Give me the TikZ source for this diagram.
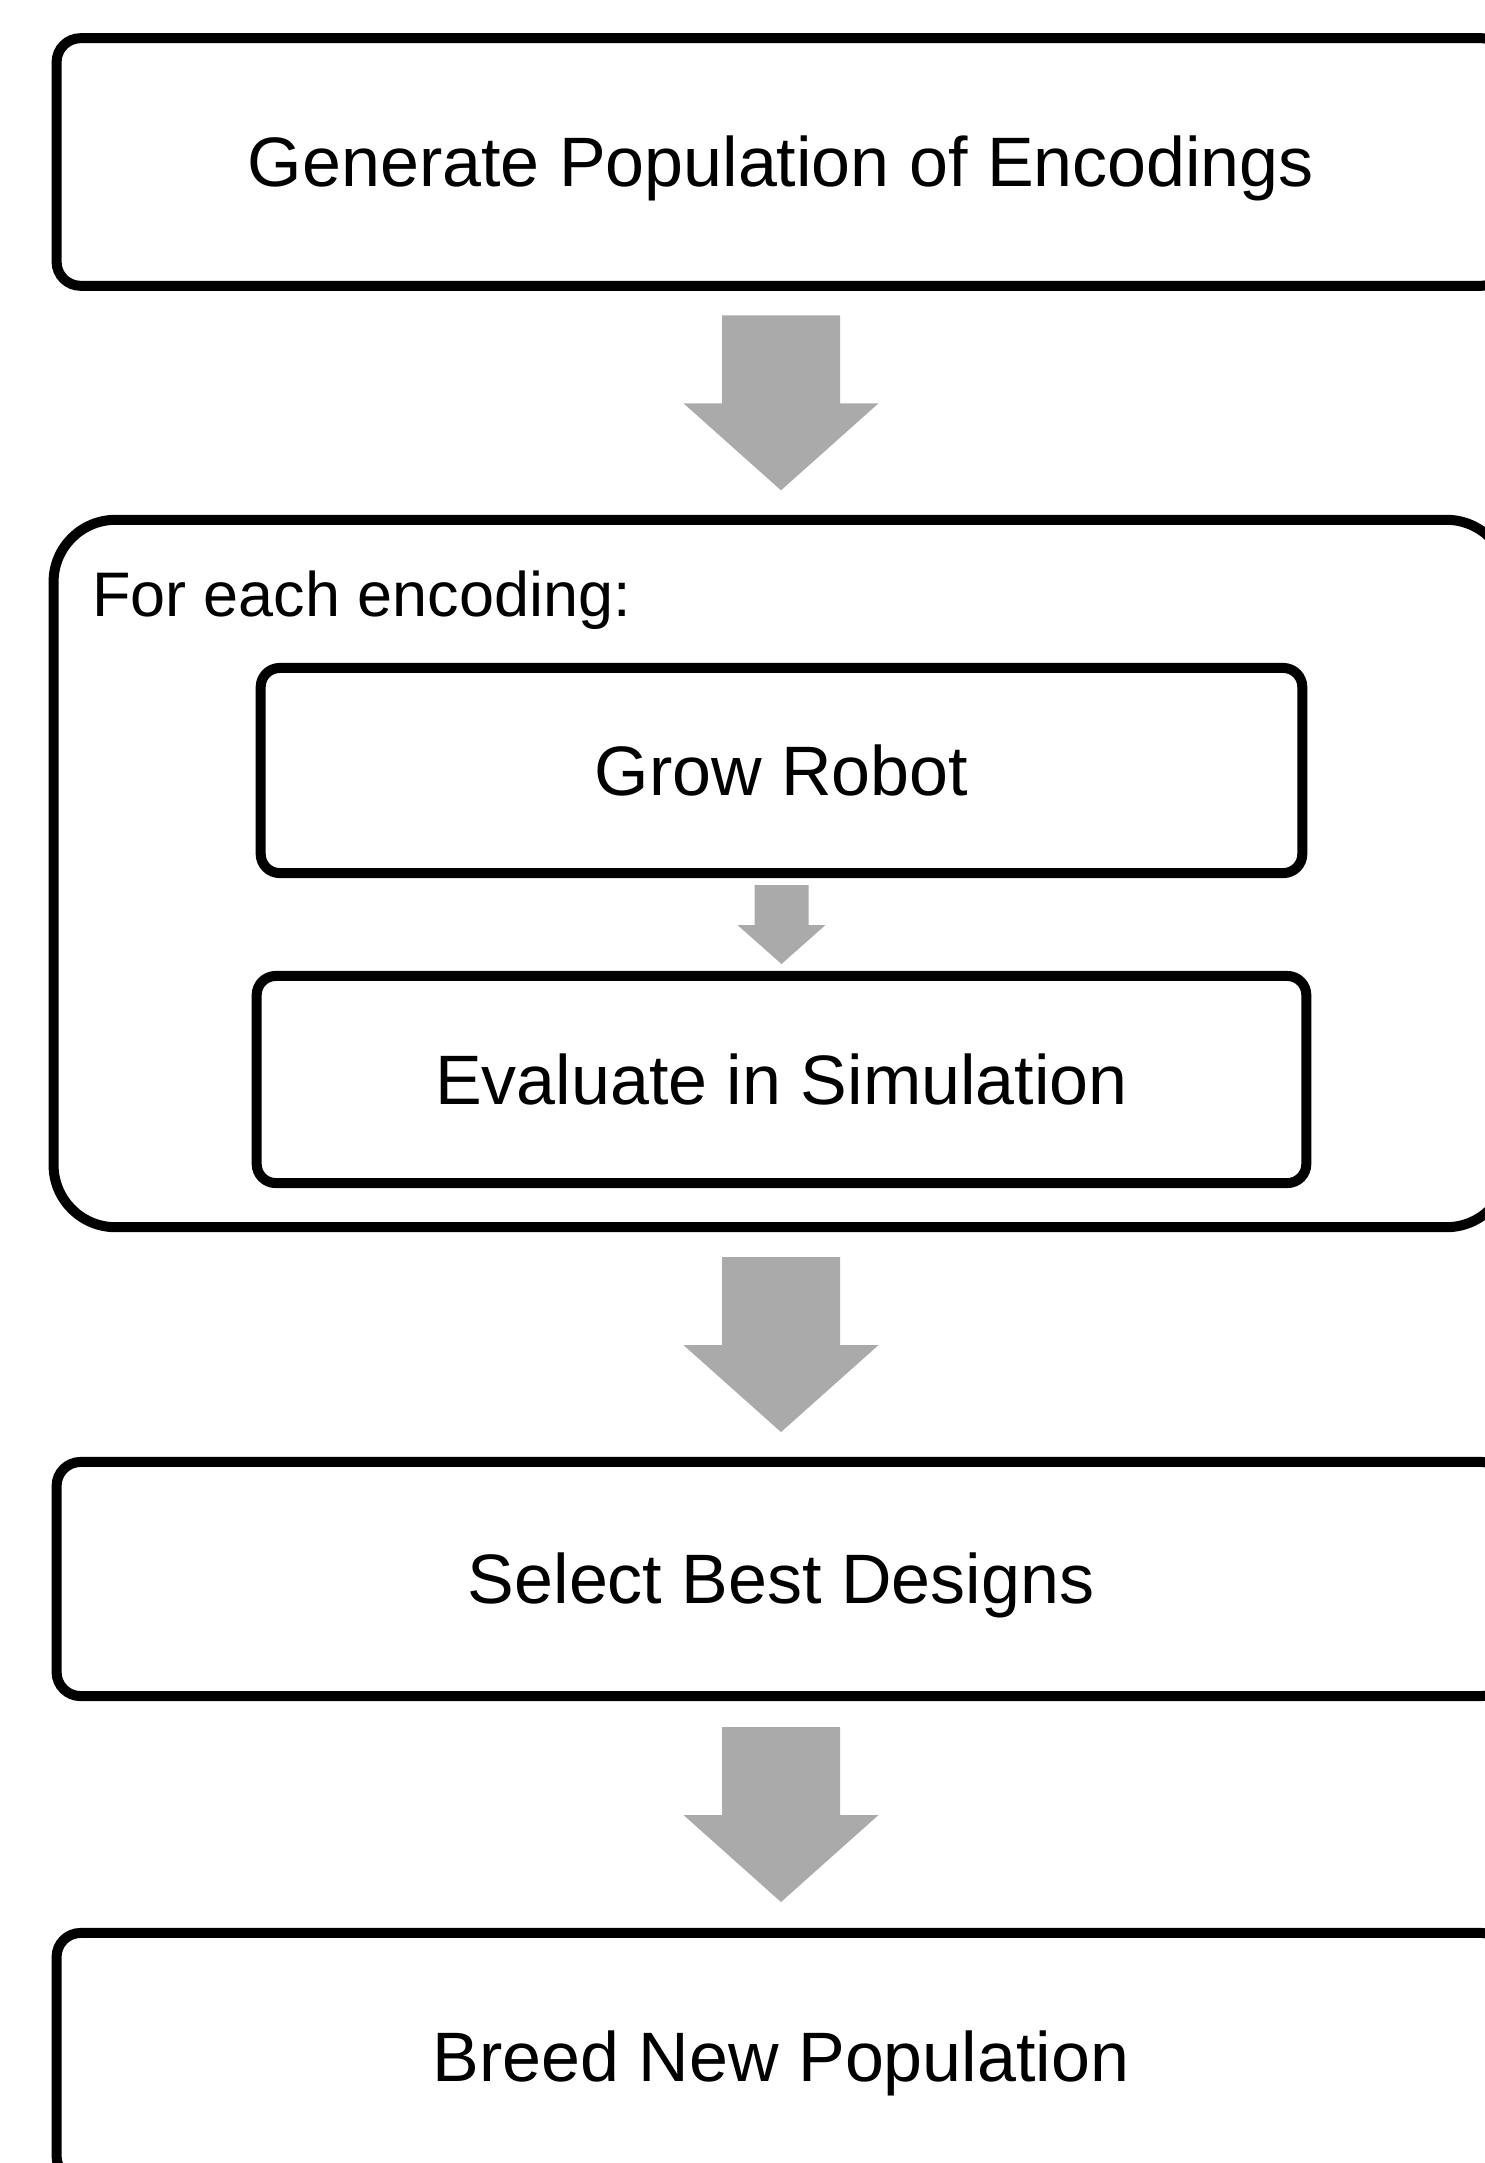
\documentclass[tikz,border=0pt]{standalone}
\usepackage{fontspec}
\setmainfont{Liberation Sans}
\usetikzlibrary{calc}
\definecolor{arrowgray}{HTML}{AAAAAA}
\tikzset{
  stage/.style={draw=black, fill=white, line width=0.1cm, rounded corners=0.24cm,
    outer sep=0pt, inner sep=0pt, align=center,
    font=\fontsize{19.9pt}{24pt}\selectfont, text height=14.2pt, text depth=0pt},
  substage/.style={stage, rounded corners=0.19cm},
  loopbox/.style={draw=black, line width=0.1cm, rounded corners=0.62cm,
    outer sep=0pt, inner sep=0pt},
  looplabel/.style={anchor=base west, inner sep=0pt, outer sep=0pt,
    font=\fontsize{17.9pt}{21pt}\selectfont}
}
% filled block arrow pointing down, centred on #1
% #2 shaft half-width, #3 head half-width, #4 shaft length, #5 head length
\newcommand\blockarrow[5]{%
  \fill[arrowgray] ($(#1)+({-#2},{-(#4+#5)/2})$) -- ++({2*#2},0) -- ++(0,#4)
    -- ++({#3-#2},0) -- ++({-#3},#5) -- ++({-#3},{-#5}) -- ++({#3-#2},0) -- cycle;}
\begin{document}
\begin{tikzpicture}[x=0.01cm, y=-0.01cm]
\useasboundingbox (0,0) rectangle (1485,2163);
\clip (0,0) rectangle (1485,2163);

\node[stage, minimum width=14.48cm, minimum height=2.475cm] (gen) at (781,162)
  {Generate Population of Encodings};

\node[loopbox, minimum width=14.54cm, minimum height=7.07cm] (loop) at (781,873.5) {};
\node[looplabel] (foreach) at (92,616) {For each encoding:};

\node[substage, minimum width=10.41cm, minimum height=2.05cm] (grow) at (781.5,770.5)
  {Grow Robot};
\node[substage, minimum width=10.49cm, minimum height=2.07cm] (eval) at (781.5,1079.5)
  {Evaluate in Simulation};

\node[stage, minimum width=14.48cm, minimum height=2.34cm] (select) at (781,1579)
  {Select Best Designs};
\node[stage, minimum width=14.48cm, minimum height=2.47cm] (breed) at (781,2056.5)
  {Breed New Population};

% block arrows between the stages
\coordinate (m1) at ($(gen.south)!0.5!(loop.north)$);
\coordinate (m2) at ($(grow.south)!0.5!(eval.north)$);
\coordinate (m3) at ($(loop.south)!0.5!(select.north)$);
\coordinate (m4) at ($(select.south)!0.5!(breed.north)$);
\blockarrow{m1}{59}{97.5}{88}{87}
\blockarrow{m2}{27}{44}{40}{39}
\blockarrow{m3}{59}{97.5}{88}{87}
\blockarrow{m4}{59}{97.5}{88}{87}
\end{tikzpicture}
\end{document}
